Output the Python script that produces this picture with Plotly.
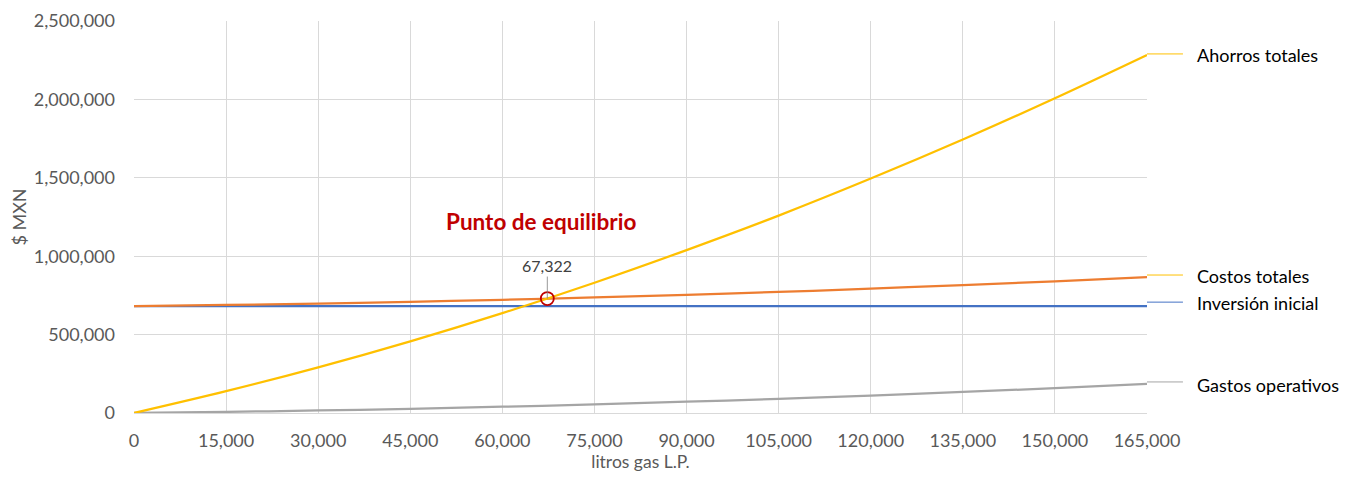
import plotly.graph_objects as go

litros = [0, 15000, 30000, 45000, 60000, 75000, 90000, 105000, 120000, 135000, 150000, 165000]
ahorros_totales = [0, 139000, 291000, 457000, 637000, 831000, 1039000, 1259000, 1495000, 1744000, 2007000, 2283000]
gastos_operativos = [0, 7000, 16000, 27000, 40000, 55000, 72000, 90000, 111000, 134000, 158000, 185000]
inversion_inicial = [682000] * 12
costos_totales = [682000, 689000, 698000, 709000, 722000, 737000, 754000, 772000, 793000, 816000, 840000, 867000]

equilibrio_x = [67322]
equilibrio_y = [730000]

x_ticks = list(range(0, 165001, 15000))
y_ticks = list(range(0, 2500001, 500000))

series = [
    ("Ahorros totales", ahorros_totales, "#FFC000", "#FFC000"),
    ("Costos totales", costos_totales, "#ED7D31", "#FFC000"),
    ("Inversión inicial", inversion_inicial, "#4472C4", "#4472C4"),
    ("Gastos operativos", gastos_operativos, "#A5A5A5", "#A5A5A5"),
]

FONT = "Lato, Carlito, sans-serif"

fig = go.Figure()
order = [3, 2, 1, 0]
for i in order:
    name, vals, col, _ = series[i]
    fig.add_trace(go.Scatter(x=litros, y=vals, mode="lines", name=name,
                             line=dict(color=col, width=2.25, shape="spline"),
                             showlegend=False))

fig.add_trace(go.Scatter(x=equilibrio_x, y=equilibrio_y, mode="markers",
                         marker=dict(symbol="circle-open", size=13, color="#C00000",
                                     line=dict(width=1.8, color="#C00000")),
                         showlegend=False))

label_y = {"Ahorros totales": 2283000, "Costos totales": 876000,
           "Inversión inicial": 700000, "Gastos operativos": 180000}
line_y = {"Ahorros totales": 2290000, "Costos totales": 880000,
          "Inversión inicial": 707000, "Gastos operativos": 198000}

for name, vals, col, lcol in series:
    fig.add_shape(type="line", xref="paper", yref="y", x0=1.0, x1=1.0355,
                  y0=line_y[name], y1=line_y[name], line=dict(color=lcol, width=1))
    fig.add_annotation(xref="paper", yref="y", x=1.047, y=label_y[name], text=name,
                       showarrow=False, xanchor="left", yanchor="middle",
                       font=dict(family=FONT, size=18, color="#000000"))

fig.add_annotation(x=equilibrio_x[0], y=equilibrio_y[0], text="67,322",
                   showarrow=True, arrowhead=0, arrowwidth=0.8, arrowcolor="#7F7F7F",
                   ax=0, ay=-22, yanchor="bottom",
                   font=dict(family=FONT, size=16, color="#404040"))

fig.add_annotation(x=66300, y=1224000, text="<b>Punto de equilibrio</b>",
                   showarrow=False, xanchor="center", yanchor="middle",
                   font=dict(family=FONT, size=22.5, color="#C00000"))

# page body adds an 8px offset; figure is sized to fit the 1348x477 window
fig.update_layout(
    width=1340, height=469,
    margin=dict(l=126, r=201, t=13, b=64, autoexpand=False),
    paper_bgcolor="white", plot_bgcolor="white",
    font=dict(family=FONT, color="#595959", size=18),
)
fig.update_xaxes(range=[0, 165000], tickvals=x_ticks, tickformat=",d",
                 showgrid=True, gridcolor="#D9D9D9", gridwidth=1,
                 showline=True, linecolor="#D9D9D9", linewidth=1,
                 zeroline=False, ticks="", ticklabelstandoff=11, automargin=False,
                 title=dict(text="litros gas L.P.", font=dict(size=17.5, color="#595959"), standoff=1),
                 tickfont=dict(size=18, color="#595959"))
fig.update_yaxes(range=[0, 2500000], tickvals=y_ticks, tickformat=",d",
                 showgrid=True, gridcolor="#D9D9D9", gridwidth=1,
                 zeroline=False, showline=False, ticks="", ticklabelstandoff=18, automargin=False,
                 title=dict(text="$ MXN", font=dict(size=18, color="#595959"), standoff=13),
                 tickfont=dict(size=18, color="#595959"))

fig.write_html("out.html")
